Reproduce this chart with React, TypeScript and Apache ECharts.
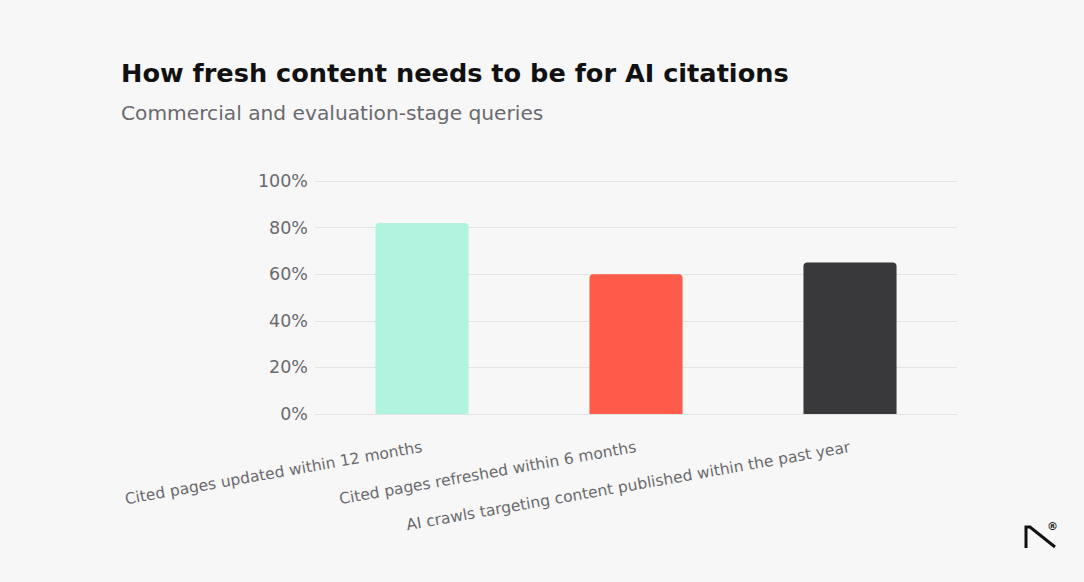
import React, { useEffect, useRef } from "react";
import * as echarts from "echarts";

const categories = [
  "Cited pages updated within 12 months",
  "Cited pages refreshed within 6 months",
  "AI crawls targeting content published within the past year",
];
const values = [82, 60, 65];
const barColors = ["#b0f4e0", "#ff5a4a", "#39393b"];
const titleText = "How fresh content needs to be for AI citations";
const subtitleText = "Commercial and evaluation-stage queries";

const FONT = "'DejaVu Sans', sans-serif";

export default function App() {
  const ref = useRef<HTMLDivElement>(null);
  useEffect(() => {
    document.body.style.margin = "0";
    const chart = echarts.init(ref.current!, null, { renderer: "svg" });
    chart.setOption({
      animation: false,
      backgroundColor: "#f7f7f7",
      title: [
        {
          text: titleText,
          left: 116,
          top: 55,
          textStyle: { fontFamily: FONT, fontSize: 25.6, fontWeight: 700, color: "#111111" },
        },
        {
          text: subtitleText,
          left: 116,
          top: 98,
          textStyle: { fontFamily: FONT, fontSize: 20.2, fontWeight: 400, color: "#6a6a6e" },
        },
      ],
      grid: { left: 315, right: 127, top: 181, bottom: 168, containLabel: false },
      xAxis: {
        type: "category",
        data: categories,
        axisLine: { show: true, lineStyle: { color: "#e3e3e3", width: 1 } },
        axisTick: { show: false },
        axisLabel: {
          rotate: 10,
          margin: 33,
          interval: 0,
          fontFamily: FONT,
          fontSize: 15.5,
          color: "#6a6a6e",
        },
      },
      yAxis: {
        type: "value",
        min: 0,
        max: 100,
        interval: 20,
        axisLine: { show: false },
        axisTick: { show: false },
        splitLine: { lineStyle: { color: "#e3e3e3", width: 1 } },
        axisLabel: {
          formatter: "{value}%",
          margin: 7,
          fontFamily: FONT,
          fontSize: 17.5,
          color: "#6a6a6e",
        },
      },
      series: [
        {
          type: "bar",
          barWidth: "43.5%",
          data: values.map((v, i) => ({ value: v, itemStyle: { color: barColors[i] } })),
          itemStyle: { borderRadius: [4, 4, 0, 0] },
        },
      ],
      graphic: [
        {
          type: "polyline",
          shape: { points: [[1026, 548], [1026, 527], [1030, 527], [1055, 547]] },
          style: { stroke: "#111111", lineWidth: 3, fill: null, lineJoin: "miter" },
        },
        {
          type: "text",
          x: 1047,
          y: 521,
          style: { text: "®", fontSize: 11, fontFamily: FONT, fill: "#111111", fontWeight: 700 },
        },
      ],
    });
    return () => chart.dispose();
  }, []);
  return <div ref={ref} style={{ width: 1084, height: 582 }} />;
}
